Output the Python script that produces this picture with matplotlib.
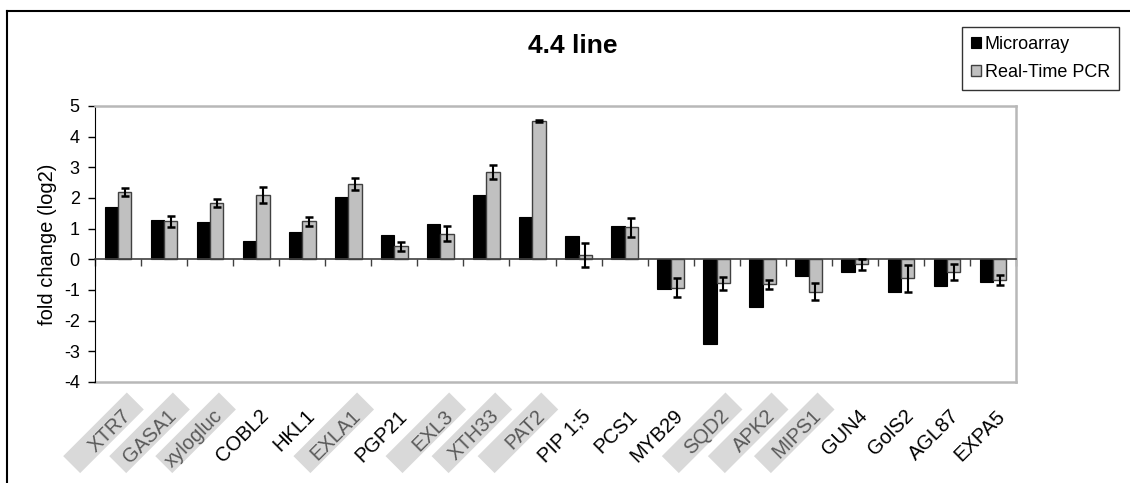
import numpy as np
import matplotlib
matplotlib.use("Agg")
import matplotlib.pyplot as plt
from matplotlib.patches import Rectangle
from matplotlib.lines import Line2D
from matplotlib.transforms import Affine2D, ScaledTranslation

plt.rcParams['font.family'] = ['Liberation Sans', 'DejaVu Sans']
plt.rcParams['axes.unicode_minus'] = False

genes = ["XTR7", "GASA1", "xylogluc", "COBL2", "HKL1", "EXLA1", "PGP21", "EXL3",
         "XTH33", "PAT2", "PIP 1;5", "PCS1", "MYB29", "SQD2", "APK2", "MIPS1",
         "GUN4", "GolS2", "AGL87", "EXPA5"]
highlighted = ["XTR7", "GASA1", "xylogluc", "EXLA1", "EXL3", "XTH33", "PAT2",
               "SQD2", "APK2", "MIPS1"]
microarray = [1.70, 1.28, 1.21, 0.60, 0.90, 2.03, 0.79, 1.14, 2.10, 1.38,
              0.77, 1.08, -0.97, -2.77, -1.54, -0.55, -0.41, -1.07, -0.86, -0.73]
rt_pcr = [2.20, 1.24, 1.83, 2.10, 1.24, 2.45, 0.42, 0.84, 2.85, 4.52,
          0.15, 1.04, -0.92, -0.78, -0.82, -1.05, -0.16, -0.62, -0.41, -0.68]
rt_pcr_err = [0.14, 0.17, 0.13, 0.27, 0.15, 0.20, 0.14, 0.24, 0.24, 0.03,
              0.39, 0.31, 0.31, 0.22, 0.14, 0.28, 0.18, 0.43, 0.27, 0.17]
y_ticks = [-4, -3, -2, -1, 0, 1, 2, 3, 4, 5]

W, H = 1130, 483
fig = plt.figure(figsize=(W / 100, H / 100), dpi=100)
fig.patch.set_facecolor('white')

# plot area in pixels: left 95, right 1016, top 106, bottom 382
ax = fig.add_axes([95 / W, 1 - 382 / H, (1016 - 95) / W, (382 - 106) / H])

x = np.arange(len(genes))
bw = 0.29
b1 = ax.bar(x - bw / 2, microarray, bw, color='black', edgecolor='black', lw=0.8,
            label='Microarray', zorder=2)
b2 = ax.bar(x + bw / 2, rt_pcr, bw, color='#c0c0c0', edgecolor='#404040', lw=1.0,
            label='Real-Time PCR', zorder=2)
ax.errorbar(x + bw / 2, rt_pcr, yerr=rt_pcr_err, fmt='none', ecolor='black',
            elinewidth=1.5, capsize=3, capthick=1.8, zorder=3)

ax.set_xlim(-0.5, len(genes) - 0.5)
ax.set_ylim(min(y_ticks), max(y_ticks))
ax.set_yticks(y_ticks)
ax.tick_params(axis='y', direction='out', length=5, width=1, pad=6, labelsize=13)

# zero axis with category ticks
ax.spines['bottom'].set_position(('data', 0))
ax.spines['bottom'].set_color('#404040')
ax.spines['bottom'].set_linewidth(1.2)
ax.set_xticks(np.arange(len(genes) + 1) - 0.5)
ax.set_xticklabels([])
ax.tick_params(axis='x', direction='out', length=5, width=1, color='#404040')
ax.spines['left'].set_color('black')
for s in ['top', 'right']:
    ax.spines[s].set_color('#b8b8b8')
    ax.spines[s].set_linewidth(1.8)
ax.axhline(min(y_ticks), color='#b8b8b8', lw=1.8, clip_on=False, zorder=1)

ax.set_ylabel('fold change (log2)', fontsize=14.5, labelpad=5)

# rotated category labels, some sitting on grey boxes
for i, g in enumerate(genes):
    dx, dy = 9.5, -31
    hl = g in highlighted
    ax.annotate(g, xy=(x[i], 0), xycoords=ax.get_xaxis_transform(),
                xytext=(dx * 0.72, dy * 0.72), textcoords='offset points',
                rotation=45, ha='right', va='center', rotation_mode='anchor',
                fontsize=14.5, color='#5a5a5a' if hl else 'black', zorder=5)
    if hl:
        L, T = 90, 24
        tr = (Affine2D().rotate_deg(45).translate(dx, dy).scale(fig.dpi / 100)
              + ScaledTranslation(x[i], 0, ax.get_xaxis_transform()))
        box = Rectangle((14 - L, -T / 2 + 3), L, T, facecolor='#d9d9d9',
                        edgecolor='none', transform=tr, zorder=-1)
        fig.add_artist(box)

fig.text(573 / W, 1 - 46 / H, '4.4 line', fontsize=19, fontweight='bold',
         ha='center', va='center')

leg = fig.legend(handles=[b1, b2], loc='upper left',
                 bbox_to_anchor=(962 / W, 1 - 27 / H), fontsize=13,
                 frameon=True, fancybox=False, edgecolor='black',
                 borderpad=0.5, handlelength=0.55, handleheight=0.55,
                 handletextpad=0.2, labelspacing=0.6, borderaxespad=0)
leg.get_frame().set_linewidth(1.0)

# outer frame (top and left)
fig.add_artist(Line2D([7 / W, 1], [1 - 11 / H, 1 - 11 / H], color='black', lw=1.5))
fig.add_artist(Line2D([7 / W, 7 / W], [0, 1 - 11 / H], color='black', lw=1.5))

fig.savefig('out.png', dpi=100)
